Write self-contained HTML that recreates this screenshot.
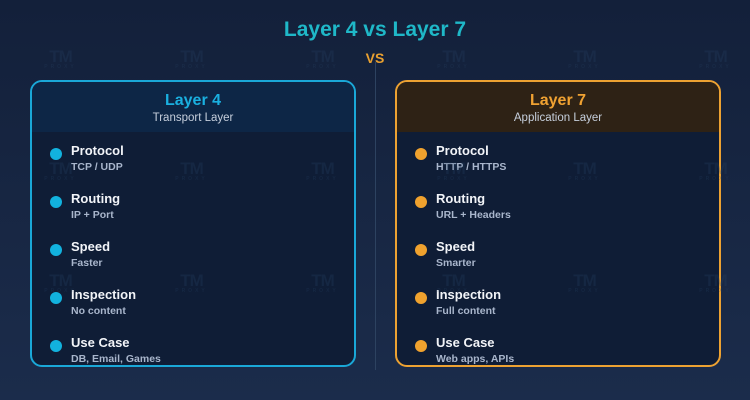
<!DOCTYPE html>
<html><head><style>
*{margin:0;padding:0;box-sizing:border-box}
body{width:750px;height:400px;overflow:hidden;background:linear-gradient(#13203a,#1b2c4b);font-family:"Liberation Sans",sans-serif;position:relative}
.t{position:absolute;left:0;width:750px;text-align:center;font-weight:bold}
.wm{position:absolute;width:37px;height:20px;color:rgba(40,70,100,0.28);font-weight:bold;font-size:17px;line-height:14px;text-align:center;letter-spacing:-1px}
.wm span{display:block;font-size:5px;letter-spacing:3px;line-height:6px}
.card{position:absolute;top:80px;width:326px;height:287px;border:2px solid;border-radius:12px;background:#0f1d36;overflow:hidden}
.hd{height:50px;text-align:center;padding-top:9px}
.hd b{display:block;font-size:16px;line-height:19px}
.hd i{display:block;font-style:normal;font-size:11.5px;color:#c6cfdc;line-height:16px}
.it{position:absolute;left:39px}
.it .d{position:absolute;left:-21px;top:5px;width:12px;height:12px;border-radius:50%}
.it b{display:block;color:#f2f4f8;font-size:13px;line-height:16px}
.it i{display:block;font-style:normal;font-weight:bold;color:#a9b6cc;font-size:10.5px;line-height:14px;margin-top:1px}
</style></head><body>
<div class="wm" style="left:42px;top:50px">TM<span>PROXY</span></div>
<div class="wm" style="left:173px;top:50px">TM<span>PROXY</span></div>
<div class="wm" style="left:304px;top:50px">TM<span>PROXY</span></div>
<div class="wm" style="left:435px;top:50px">TM<span>PROXY</span></div>
<div class="wm" style="left:566px;top:50px">TM<span>PROXY</span></div>
<div class="wm" style="left:697px;top:50px">TM<span>PROXY</span></div>
<div class="t" style="top:18px;font-size:21px;color:#1fb8c8">Layer 4 vs Layer 7</div>
<div class="t" style="top:50px;font-size:14px;color:#e8a030">VS</div>
<div style="position:absolute;left:375px;top:62px;width:1px;height:308px;background:#2d4260"></div>
<div class="card" style="left:30px;border-color:#1aa8d8">
<div class="hd" style="background:#0d2646"><b style="color:#1ab0e0">Layer 4</b><i>Transport Layer</i></div>
<div class="it" style="top:61px"><div class="d" style="background:#12b2de"></div><b>Protocol</b><i>TCP / UDP</i></div>
<div class="it" style="top:109px"><div class="d" style="background:#12b2de"></div><b>Routing</b><i>IP + Port</i></div>
<div class="it" style="top:157px"><div class="d" style="background:#12b2de"></div><b>Speed</b><i>Faster</i></div>
<div class="it" style="top:205px"><div class="d" style="background:#12b2de"></div><b>Inspection</b><i>No content</i></div>
<div class="it" style="top:253px"><div class="d" style="background:#12b2de"></div><b>Use Case</b><i>DB, Email, Games</i></div>
</div>
<div class="card" style="left:395px;border-color:#eda232">
<div class="hd" style="background:#2e2215"><b style="color:#f0a232">Layer 7</b><i>Application Layer</i></div>
<div class="it" style="top:61px"><div class="d" style="background:#f0a22e"></div><b>Protocol</b><i>HTTP / HTTPS</i></div>
<div class="it" style="top:109px"><div class="d" style="background:#f0a22e"></div><b>Routing</b><i>URL + Headers</i></div>
<div class="it" style="top:157px"><div class="d" style="background:#f0a22e"></div><b>Speed</b><i>Smarter</i></div>
<div class="it" style="top:205px"><div class="d" style="background:#f0a22e"></div><b>Inspection</b><i>Full content</i></div>
<div class="it" style="top:253px"><div class="d" style="background:#f0a22e"></div><b>Use Case</b><i>Web apps, APIs</i></div>
</div>
<div class="wm" style="left:42px;top:162px">TM<span>PROXY</span></div>
<div class="wm" style="left:173px;top:162px">TM<span>PROXY</span></div>
<div class="wm" style="left:304px;top:162px">TM<span>PROXY</span></div>
<div class="wm" style="left:435px;top:162px">TM<span>PROXY</span></div>
<div class="wm" style="left:566px;top:162px">TM<span>PROXY</span></div>
<div class="wm" style="left:697px;top:162px">TM<span>PROXY</span></div>
<div class="wm" style="left:42px;top:274px">TM<span>PROXY</span></div>
<div class="wm" style="left:173px;top:274px">TM<span>PROXY</span></div>
<div class="wm" style="left:304px;top:274px">TM<span>PROXY</span></div>
<div class="wm" style="left:435px;top:274px">TM<span>PROXY</span></div>
<div class="wm" style="left:566px;top:274px">TM<span>PROXY</span></div>
<div class="wm" style="left:697px;top:274px">TM<span>PROXY</span></div>
</body></html>
